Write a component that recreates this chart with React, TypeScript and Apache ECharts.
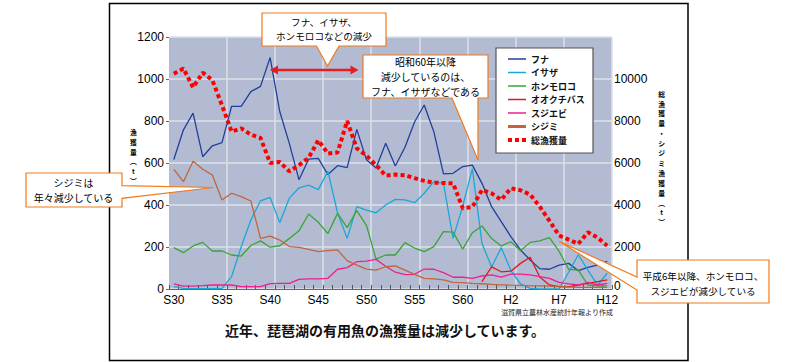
import React, { useEffect, useRef } from "react";
import * as echarts from "echarts";

const categories = [
  "S30","S31","S32","S33","S34","S35","S36","S37","S38","S39",
  "S40","S41","S42","S43","S44","S45","S46","S47","S48","S49",
  "S50","S51","S52","S53","S54","S55","S56","S57","S58","S59",
  "S60","S61","S62","S63","H1","H2","H3","H4","H5","H6",
  "H7","H8","H9","H10","H11","H12",
];
const labeledTicks = ["S30","S35","S40","S45","S50","S55","S60","H2","H7","H12"];

const funa = [617,758,838,630,682,697,870,870,940,965,1102,845,692,520,618,622,545,587,578,760,615,576,694,586,675,795,876,749,548,551,583,590,503,392,321,249,186,138,97,94,114,122,87,103,114,132];
const isaza = [11,3,2,2,2,3,59,201,329,420,436,316,433,482,495,473,560,363,241,392,376,363,400,427,424,411,456,511,503,241,395,572,217,105,197,88,25,3,0,0,0,80,163,90,18,75];
const honmoroko = [197,173,205,222,181,181,162,157,207,229,199,206,241,277,357,318,264,360,292,373,303,142,162,162,221,195,178,202,273,271,190,268,300,240,205,225,182,222,229,245,180,94,90,19,15,15];
const ookuchibasu = [null,null,null,null,null,null,null,null,null,null,null,null,null,null,null,null,null,null,null,null,null,null,null,null,null,null,null,null,null,null,null,null,35,105,82,85,122,151,57,19,11,10,19,27,35,43];
const sujiebi = [24,14,14,16,19,20,19,11,11,11,26,27,27,46,48,48,51,94,102,130,133,141,108,80,68,70,95,94,78,56,56,51,62,67,56,71,71,67,59,51,32,24,19,32,19,27];
const shijimi = [5700,5110,6080,5700,5430,4240,4560,4400,4190,2410,2520,2330,2020,1980,1890,1780,1830,1860,1350,1140,950,900,1060,1100,900,700,510,480,430,320,300,270,250,220,200,180,170,150,150,140,120,100,80,80,80,80];
const total = [10250,10500,9600,10300,9950,8750,7500,7650,7350,7200,6000,6050,5600,5900,6250,7080,6450,6500,8000,6700,6350,5900,5400,5450,5420,5280,5150,5060,5050,5030,3850,3900,4720,4550,4250,4800,4700,4500,3920,3250,2550,2350,2150,2700,2450,2060];

const seriesNames = ["フナ","イサザ","ホンモロコ","オオクチバス","スジエビ","シジミ","総漁獲量"];
const seriesColors = ["#22409a","#1aa8d6","#3aa534","#dd1a1a","#ef1f8c","#c4643a","#ff0000"];

const leftTitle = ["漁", "獲", "量", "︵", "t", "︶"];
const rightTitle = ["総", "漁", "獲", "量", "・", "シ", "ジ", "ミ", "漁", "獲", "量", "︵", "t", "︶"];

const JP = "'Noto Sans CJK JP', sans-serif";
const NUM = "'Liberation Sans', Arial, sans-serif";
const ORANGE = "#f07a1c";

const ICON_LINE = "path://M0,0H18V1.5H0Z";
const ICON_THICK = "path://M0,0H18V3H0Z";
const ICON_DOTS = "path://M0,0H4V4H0Z M7,0H11V4H7Z M14,0H18V4H14Z";

function callout(points: number[][]) {
  return {
    type: "polygon",
    z: 100,
    shape: { points },
    style: { fill: "#fff", stroke: ORANGE, lineWidth: 1.2 },
  };
}
function label(x: number, y: number, text: string, fontSize = 10) {
  return {
    type: "text",
    z: 101,
    x,
    y,
    style: {
      text,
      fill: "#000",
      fontSize,
      fontFamily: JP,
      align: "center",
      textAlign: "center",
      verticalAlign: "middle",
      textVerticalAlign: "middle",
    },
  };
}
function vertical(x: number, centerY: number, chars: string[], fontSize: number, lineHeight: number) {
  return {
    type: "text",
    z: 60,
    x,
    y: centerY - (chars.length * lineHeight) / 2,
    style: {
      text: chars.join("\n"),
      fill: "#000",
      fontSize,
      fontWeight: "bold",
      fontFamily: JP,
      lineHeight,
      align: "center",
      textAlign: "center",
      verticalAlign: "top",
      textVerticalAlign: "top",
    },
  };
}

export default function App() {
  const ref = useRef<HTMLDivElement>(null);
  useEffect(() => {
    if (!ref.current) return;
    const chart = echarts.init(ref.current, null, { renderer: "svg" });
    const lineData = [funa, isaza, honmoroko, ookuchibasu, sujiebi, shijimi, total];
    const series = lineData.map((d, i) => ({
      name: seriesNames[i],
      type: "line",
      data: d,
      yAxisIndex: i >= 5 ? 1 : 0,
      symbol: "none",
      connectNulls: false,
      color: seriesColors[i],
      lineStyle:
        i === 6
          ? { color: seriesColors[i], width: 4, type: [4, 3], cap: "butt" }
          : { color: seriesColors[i], width: 1.3 },
      z: i === 6 ? 3 : 2,
    }));
    chart.setOption({
      animation: false,
      grid: {
        left: 169,
        right: 188,
        top: 37,
        bottom: 73,
        show: true,
        backgroundColor: "#b2bbd2",
        borderWidth: 0,
        containLabel: false,
        outerBoundsMode: "none",
      },
      legend: {
        orient: "vertical",
        left: 496,
        top: 48,
        padding: [6, 8, 8, 12],
        itemWidth: 18,
        itemHeight: 10,
        itemGap: 3.5,
        selectedMode: false,
        backgroundColor: "#fff",
        borderColor: "#555",
        borderWidth: 1.2,
        borderRadius: 0,
        textStyle: { fontSize: 9, fontWeight: "bold", color: "#111", fontFamily: JP, lineHeight: 10 },
        data: seriesNames.map((n, i) => ({
          name: n,
          icon: i === 6 ? ICON_DOTS : i === 5 ? ICON_THICK : ICON_LINE,
        })),
      },
      xAxis: {
        type: "category",
        data: categories,
        boundaryGap: true,
        axisLine: { show: true, lineStyle: { color: "#666", width: 1 } },
        axisTick: { show: true, inside: true, length: 4, interval: 0, lineStyle: { color: "#555" } },
        axisLabel: {
          interval: (i: number, v: string) => labeledTicks.includes(v),
          fontSize: 12,
          color: "#000",
          fontFamily: NUM,
          margin: 5,
        },
        splitLine: {
          show: true,
          interval: (i: number) => i >= 6 && (i - 1) % 5 === 0,
          lineStyle: { color: "#dde1ea", width: 1.5 },
        },
      },
      yAxis: [
        {
          type: "value",
          min: 0,
          max: 1200,
          interval: 200,
          position: "left",
          axisLine: { show: false },
          axisTick: { show: true, length: 3, lineStyle: { color: "#666" } },
          axisLabel: {
            fontSize: 12,
            color: "#000",
            fontFamily: NUM,
            margin: 5,
            formatter: (v: number) => String(v),
          },
          splitLine: { show: true, lineStyle: { color: "#dde1ea", width: 1.5 } },
        },
        {
          type: "value",
          min: 0,
          max: 12000,
          interval: 2000,
          position: "right",
          axisLine: { show: false },
          axisTick: { show: false },
          axisLabel: {
            fontSize: 12,
            color: "#000",
            fontFamily: NUM,
            margin: 2,
            formatter: (v: number) => (v >= 12000 ? "" : v === 0 ? "{z|0}" : String(v)),
            rich: {
              z: { fontSize: 12, color: "#000", fontFamily: NUM, padding: [0, 0, 7, 0] },
            },
          },
          splitLine: { show: false },
        },
      ],
      series,
      graphic: {
        elements: [
          {
            type: "rect",
            z: 50,
            shape: { x: 109.5, y: 3.5, width: 578.5, height: 357 },
            style: { fill: "none", stroke: "#000", lineWidth: 1.5 },
          },
          // top callout
          callout([[262, 13], [386, 13], [386, 46], [339, 46], [327.5, 66], [316.5, 46], [262, 46]]),
          label(324, 22.2, "フナ、イサザ、", 9.6),
          label(324, 36.3, "ホンモロコなどの減少", 9.6),
          // double arrow
          {
            type: "line",
            z: 100,
            shape: { x1: 276, y1: 70, x2: 352, y2: 70 },
            style: { stroke: "#e41e1e", lineWidth: 2.5 },
          },
          {
            type: "polygon",
            z: 100,
            shape: { points: [[270, 70], [278, 65.5], [278, 74.5]] },
            style: { fill: "#e41e1e" },
          },
          {
            type: "polygon",
            z: 100,
            shape: { points: [[358.5, 70], [350.5, 65.5], [350.5, 74.5]] },
            style: { fill: "#e41e1e" },
          },
          // middle callout
          callout([[363, 55], [488, 55], [488, 98], [478, 98], [478, 160], [452, 98], [363, 98]]),
          label(425.5, 61.8, "昭和60年以降", 10),
          label(425.5, 76.5, "減少しているのは、", 10),
          label(425.5, 91.2, "フナ、イサザなどである", 10),
          // left callout
          callout([[26, 173], [122, 173], [122, 185.7], [213.5, 187.5], [122, 198.3], [122, 207], [26, 207]]),
          label(73.5, 182.6, "シジミは"),
          label(73.5, 197.4, "年々減少している"),
          // right callout
          callout([[637, 260], [769, 260], [769, 303], [637, 303], [637, 290], [559.5, 241.5], [637, 277]]),
          label(703, 276.4, "平成6年以降、ホンモロコ、", 9.6),
          label(703, 290.6, "スジエビが減少している", 9.6),
          // axis titles (vertical)
          vertical(133.5, 156.5, leftTitle, 6.8, 9.9),
          vertical(661.7, 158, rightTitle, 6.8, 9.9),
          // source note
          {
            type: "text",
            z: 60,
            x: 613,
            y: 312,
            style: {
              text: "滋賀県立農林水産統計年報より作成",
              fill: "#222",
              fontSize: 7,
              fontFamily: JP,
              align: "right",
              textAlign: "right",
              verticalAlign: "middle",
              textVerticalAlign: "middle",
            },
          },
          // title
          {
            type: "text",
            z: 60,
            x: 385,
            y: 330,
            style: {
              text: "近年、琵琶湖の有用魚の漁獲量は減少しています。",
              fill: "#111",
              fontSize: 14,
              fontWeight: "bold",
              fontFamily: JP,
              align: "center",
              textAlign: "center",
              verticalAlign: "middle",
              textVerticalAlign: "middle",
            },
          },
        ],
      },
    });
    return () => chart.dispose();
  }, []);
  return (
    <div
      ref={ref}
      style={{ position: "absolute", left: 0, top: 0, width: 800, height: 362, background: "#fff" }}
    />
  );
}
